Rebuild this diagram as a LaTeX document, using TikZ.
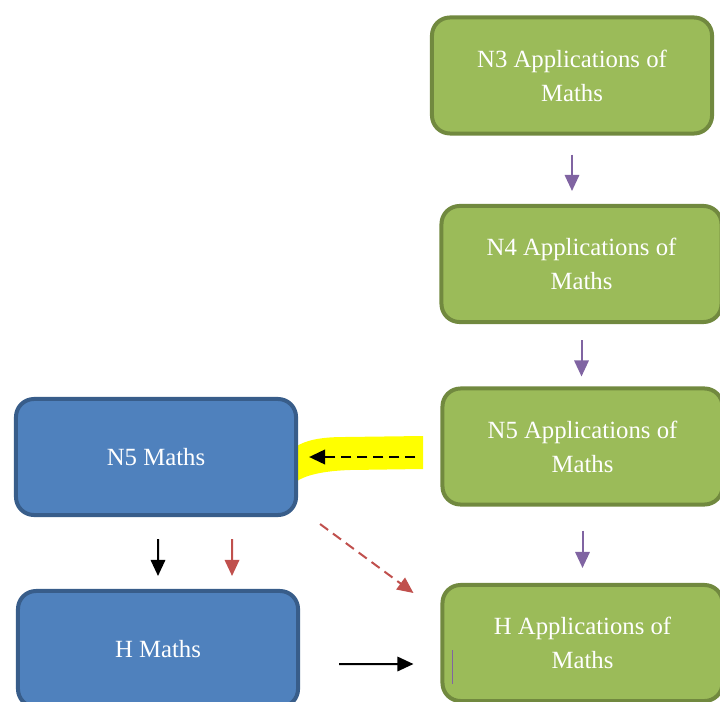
\documentclass[tikz,border=0pt]{standalone}
\usepackage{fontspec}
\setmainfont{Liberation Serif}
\usetikzlibrary{arrows.meta, positioning}
\definecolor{aomfill}{RGB}{155,187,89}
\definecolor{aomline}{RGB}{113,137,63}
\definecolor{mathsfill}{RGB}{79,129,189}
\definecolor{mathsline}{RGB}{56,93,138}
\definecolor{routepurple}{RGB}{128,100,162}
\definecolor{routered}{RGB}{192,80,77}
\definecolor{marker}{RGB}{255,255,0}

\begin{document}
\begin{tikzpicture}[x=0.025cm, y=-0.025cm, every node/.style={align=center},
    coursebox/.style={draw, line width=0.1cm, rounded corners=0.45cm, minimum width=7cm, minimum height=2.9cm, text=white, font=\fontsize{17.6}{24.2}\selectfont},
    aombox/.style={coursebox, fill=aomfill, draw=aomline},
    mathsbox/.style={coursebox, fill=mathsfill, draw=mathsline},
    route/.style={-{Triangle[width=0.36cm, length=0.4cm]}, line width=0.05cm}]
        \clip (0, 0) rectangle (720, 701);

        % Highlighter stroke
        \fill[marker] (297, 446) .. controls (310, 438) and (330, 437) .. (345, 437) -- (423, 436) -- (423, 469) -- (350, 470) .. controls (320, 471) and (305, 476) .. (297, 481) -- cycle;

        % Applications of Maths
        \node[aombox] (n3aom) at (572, 75.5) {N3 Applications of\\Maths};
        \node[aombox] (n4aom) at (581.5, 264) {N4 Applications of\\Maths};
        \node[aombox] (n5aom) at (582.5, 446.5) {N5 Applications of\\Maths};
        \node[aombox] (haom) at (582.5, 643) {H Applications of\\Maths};

        % Maths
        \node[mathsbox] (n5maths) at (156, 457) {N5 Maths};
        \node[mathsbox] (hmaths) at (158, 649) {H Maths};

        % Progression
        \draw[route, routepurple, shorten <=0.475cm, shorten >=0.325cm] (n3aom.south) -- (n3aom.south |- n4aom.north);
        \draw[route, routepurple, shorten <=0.4cm, shorten >=0.25cm] (n4aom.south) -- (n4aom.south |- n5aom.north);
        \draw[route, routepurple, shorten <=0.6cm, shorten >=0.375cm] (n5aom.south) -- (haom.north);

        \draw[route, line width=0.065cm, dash pattern=on 0.25cm off 0.15cm, shorten <=0.625cm, shorten >=0.275cm] (n5aom.west |- n5maths.east) -- (n5maths.east);

        \draw[route, shorten <=0.55cm, shorten >=0.325cm] ([xshift=0.05cm]n5maths.south) -- (hmaths.north);
        \draw[route, routered, shorten <=0.55cm, shorten >=0.325cm] ([xshift=1.9cm]n5maths.south) -- ([xshift=1.85cm]hmaths.north);

        \draw[route, routered, dash pattern=on 0.25cm off 0.15cm] ([xshift=0.55cm, yshift=-0.175cm]n5maths.south east) -- ([xshift=-0.675cm, yshift=1.25cm]haom.west);
        \draw[route] ([xshift=0.975cm, yshift=-0.375cm]hmaths.east) -- ([xshift=-0.675cm, yshift=-0.525cm]haom.west);

        % Text cursor
        \draw[routepurple, line width=0.025cm] (452, 650) -- (452, 684);
    \end{tikzpicture}
\end{document}
